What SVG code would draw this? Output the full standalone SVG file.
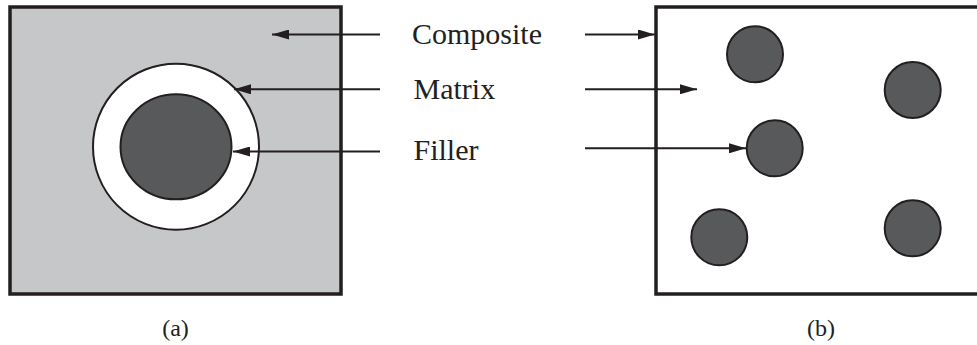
<svg xmlns="http://www.w3.org/2000/svg" width="977" height="345" viewBox="0 0 977 345">
<defs>
<style>
.lbl{font-family:"Liberation Serif","Times New Roman","DejaVu Serif",serif;font-size:30px;fill:#231f20}
.cap{font-family:"Liberation Serif","Times New Roman","DejaVu Serif",serif;font-size:24px;fill:#231f20;text-anchor:middle}
.box{stroke:#231f20;stroke-width:3.5}
.fill{fill:#58595b;stroke:#231f20;stroke-width:2}
.conn{stroke:#231f20;stroke-width:2;fill:none}
</style>
<marker id="ah" viewBox="0 0 17 10" refX="17" refY="5" markerWidth="17" markerHeight="10" markerUnits="userSpaceOnUse" orient="auto">
<path d="M0,0 L17,5 L0,10 Z" fill="#231f20"/>
</marker>
</defs>
<rect width="977" height="345" fill="#ffffff"/>
<g id="panel-a">
<rect class="box" x="10" y="7" width="331" height="287" fill="#c6c7c9"/>
<circle cx="176" cy="146.7" r="83" fill="#ffffff" stroke="#231f20" stroke-width="2"/>
<ellipse class="fill" cx="176" cy="146.8" rx="55.5" ry="52.5"/>
</g>
<g id="panel-b">
<rect class="box" x="656" y="7" width="340" height="287" fill="#ffffff"/>
<circle class="fill" cx="755" cy="54.3" r="28"/>
<circle class="fill" cx="912.7" cy="90" r="28"/>
<circle class="fill" cx="774.7" cy="148.3" r="28"/>
<circle class="fill" cx="719.3" cy="237.3" r="28"/>
<circle class="fill" cx="912.7" cy="228.3" r="28"/>
</g>
<g id="labels">
<text class="lbl" x="412" y="43.5">Composite</text>
<text class="lbl" x="413.5" y="98.5">Matrix</text>
<text class="lbl" x="413.5" y="160">Filler</text>
<text class="cap" x="175.5" y="336">(a)</text>
<text class="cap" x="821" y="336">(b)</text>
</g>
<g id="connectors">
<line class="conn" x1="380" y1="34.5" x2="272" y2="34.5" marker-end="url(#ah)"/>
<line class="conn" x1="380" y1="89.3" x2="234" y2="89.3" marker-end="url(#ah)"/>
<line class="conn" x1="380" y1="151.5" x2="233" y2="151.5" marker-end="url(#ah)"/>
<line class="conn" x1="585" y1="34.5" x2="655" y2="34.5" marker-end="url(#ah)"/>
<line class="conn" x1="585" y1="89.3" x2="697" y2="89.3" marker-end="url(#ah)"/>
<line class="conn" x1="585" y1="148.3" x2="746" y2="148.3" marker-end="url(#ah)"/>
</g>
</svg>
